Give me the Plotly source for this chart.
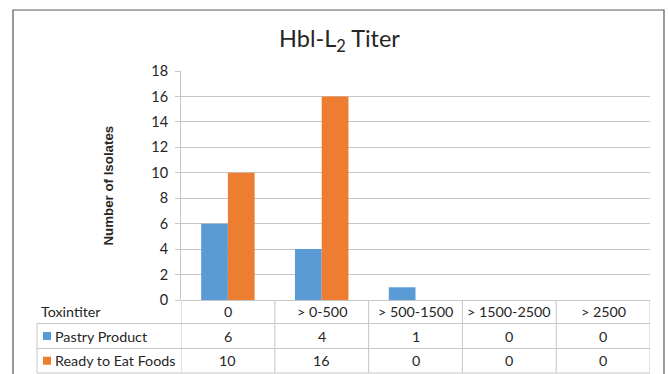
import plotly.graph_objects as go

# Toxin titer classes and isolate counts per food group
categories = ["0", "> 0-500", "> 500-1500", "> 1500-2500", "> 2500"]
pastry = [6, 4, 1, 0, 0]
ready_to_eat = [10, 16, 0, 0, 0]
series_names = ["Pastry Product", "Ready to Eat Foods"]
series_colors = ["#5B9BD5", "#ED7D31"]
y_ticks = list(range(0, 19, 2))

W, H = 668, 374
FONT = "Lato, Calibri, Carlito, sans-serif"
TXT = "#262626"
GRID = "#c6c6c6"
CELL_SIZE = 14.3


def px(x):
    return x / W


def py(y):
    return 1 - y / H


def label(x, y, text, xref="paper", xanchor="center", size=CELL_SIZE, family=FONT, **kw):
    return dict(x=x, y=y, xref=xref, yref="paper", xanchor=xanchor, yanchor="middle",
                text=text, showarrow=False, font=dict(size=size, color=TXT, family=family), **kw)


x_idx = list(range(len(categories)))

fig = go.Figure()
for name, vals, col in zip(series_names, [pastry, ready_to_eat], series_colors):
    fig.add_trace(go.Bar(x=x_idx, y=vals, name=name, marker=dict(color=col, line=dict(width=0))))

shapes = []
annotations = []

# outer chart frame
shapes.append(dict(type="rect", xref="paper", yref="paper",
                   x0=px(13), x1=px(664), y0=py(390), y1=py(10),
                   line=dict(color="#595959", width=1.2)))

# data table under the plot
row_top, row1, row2, row3 = 300, 323.5, 348.5, 373
table_left = 37
n = len(categories)
for yy in (row1, row2, row3):
    shapes.append(dict(type="line", xref="paper", yref="paper",
                       x0=px(table_left), x1=px(181), y0=py(yy), y1=py(yy),
                       line=dict(color=GRID, width=1)))
    shapes.append(dict(type="line", xref="x", yref="paper",
                       x0=-0.5, x1=n - 0.5, y0=py(yy), y1=py(yy),
                       line=dict(color=GRID, width=1)))
shapes.append(dict(type="line", xref="paper", yref="paper",
                   x0=px(table_left), x1=px(table_left), y0=py(row1), y1=py(row3),
                   line=dict(color=GRID, width=1)))
for i in range(n + 1):
    shapes.append(dict(type="line", xref="x", yref="paper",
                       x0=i - 0.5, x1=i - 0.5, y0=py(row_top), y1=py(row3),
                       line=dict(color=GRID, width=1)))

# header and value cells
for i, cat in enumerate(categories):
    annotations.append(label(i, py((row_top + row1) / 2), cat, xref="x"))
    for vals, (ya, yb) in ((pastry, (row1, row2)), (ready_to_eat, (row2, row3))):
        annotations.append(label(i, py((ya + yb) / 2), str(vals[i]), xref="x"))

annotations.append(label(px(39), py(311), "Toxintiter", xanchor="left"))

# legend keys inside the table rows
for name, col, (ya, yb) in zip(series_names, series_colors, ((row1, row2), (row2, row3))):
    yc = (ya + yb) / 2
    shapes.append(dict(type="rect", xref="paper", yref="paper",
                       x0=px(43), x1=px(51), y0=py(yc + 4), y1=py(yc - 4),
                       fillcolor=col, line=dict(width=0)))
    annotations.append(label(px(53), py(yc), name, xanchor="left"))

# axis title
annotations.append(label(px(108), py(185.5), "<b>Number of Isolates</b>", size=13.3,
                         family="Liberation Sans Narrow, Arial Narrow, sans-serif",
                         textangle=-90))

# chart title
annotations.append(label(px(339), py(40), "Hbl-L<sub>2</sub> Titer", size=23.5))

fig.update_layout(
    width=W, height=H, autosize=False,
    margin=dict(l=0, r=0, t=0, b=0, pad=0, autoexpand=False),
    paper_bgcolor="white", plot_bgcolor="white",
    barmode="group", bargap=0.43, bargroupgap=0,
    showlegend=False,
    shapes=shapes, annotations=annotations,
    xaxis=dict(domain=[px(181), px(650)], range=[-0.5, n - 0.5], automargin=False,
               showticklabels=False, showgrid=False, zeroline=False,
               showline=False, ticks=""),
    yaxis=dict(domain=[py(300), py(71)], range=[0, 18], tickvals=y_ticks, automargin=False,
               showgrid=True, gridcolor=GRID, gridwidth=1,
               zeroline=True, zerolinecolor=GRID, zerolinewidth=1,
               showline=True, linecolor=GRID, linewidth=1,
               ticks="outside", ticklen=5, tickcolor=GRID, ticklabelstandoff=4,
               tickfont=dict(size=14.5, color=TXT, family=FONT)),
)

fig.write_html("out.html")
